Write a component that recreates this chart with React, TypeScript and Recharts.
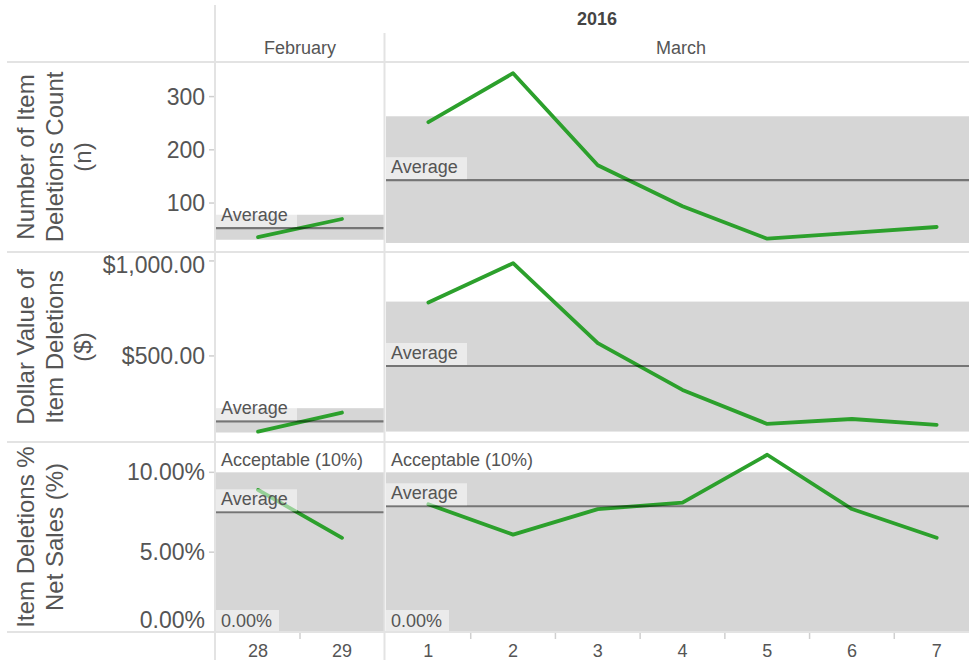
import React from 'react';
import { LineChart, Line, XAxis, YAxis, ReferenceArea, ReferenceLine } from 'recharts';

// ---------- data ----------
const febDays = ['28', '29'];
const marDays = ['1', '2', '3', '4', '5', '6', '7'];

const countFeb = [36, 70];
const countMar = [252, 344, 171, 94, 33, 44, 55];
const dollarFeb = [102, 202];
const dollarMar = [781, 988, 567, 321, 142, 168, 137];
const pctFeb = [8.9, 5.9];
const pctMar = [8.0, 6.1, 7.7, 8.1, 11.1, 7.7, 5.9];

// reference values: [February, March]
const countAvg = [53, 143];
const countBandLow = [31, 25];
const countBandHigh = [78, 263];
const dollarAvg = [156, 447];
const dollarBandLow = [97, 102];
const dollarBandHigh = [225, 786];
const pctAvg = [7.5, 7.875];
const pctBand = [0, 10];

const countTicks = [100, 200, 300];
const dollarTicks = [500, 1000];
const pctTicks = [0, 5, 10];

const countDomain = [8, 365];
const dollarDomain = [47, 1047];
const pctDomain = [0, 11.9];

const yearLabel = '2016';
const monthLabels = ['February', 'March'];
const countTitle = ['Number of Item', 'Deletions Count', '(n)'];
const dollarTitle = ['Dollar Value of', 'Item Deletions', '($)'];
const pctTitle = ['Item Deletions %', 'Net Sales (%)'];

const febRows = febDays.map((day, i) => ({ day, count: countFeb[i], dollar: dollarFeb[i], pct: pctFeb[i] }));
const marRows = marDays.map((day, i) => ({ day, count: countMar[i], dollar: dollarMar[i], pct: pctMar[i] }));

// ---------- styles ----------
const FONT = '"Liberation Sans", Arial, sans-serif';
const TEXT = '#555555';
const GREEN = '#2ca02c';
const BAND = '#d6d6d6';
const DIV = '#e3e3e3';

const fmtCount = (v: number) => String(v);
const fmtDollar = (v: number) =>
  '$' + v.toLocaleString('en-US', { minimumFractionDigits: 2, maximumFractionDigits: 2 });
const fmtPct = (v: number) => v.toFixed(2) + '%';

const ROW_H = 190;

const YTick = (props: any) => {
  const { x, y, payload, fmt } = props;
  const cy = Math.min(Math.max(y, 13), ROW_H - 12);
  return (
    <text x={x} y={cy} textAnchor="end" dominantBaseline="central" fontSize={23} fill={TEXT} fontFamily={FONT}>
      {fmt(payload.value)}
    </text>
  );
};

const XTick = (props: any) => {
  const { x, payload, index, bw } = props;
  return (
    <g>
      {index > 0 && (
        <line x1={x - bw / 2} x2={x - bw / 2} y1={ROW_H} y2={ROW_H + 7} stroke="#d0d0d0" strokeWidth={1.5} />
      )}
      <text x={x} y={ROW_H + 24.5} textAnchor="middle" fontSize={18} fill={TEXT} fontFamily={FONT}>
        {payload.value}
      </text>
    </g>
  );
};

const AxisTitle = (props: any) => {
  const vb = props.viewBox || {};
  const lines: string[] = props.lines || [];
  const x0 = typeof vb.x === 'number' ? vb.x : 0;
  const cy = (typeof vb.y === 'number' ? vb.y : 0) + (typeof vb.height === 'number' ? vb.height : ROW_H) / 2;
  return (
    <g>
      {lines.map((ln, i) => {
        const cx = x0 + 25.5 + i * 28.7;
        return (
          <text
            key={i}
            x={cx}
            y={cy}
            transform={`rotate(-90 ${cx} ${cy})`}
            textAnchor="middle"
            dominantBaseline="central"
            fontSize={24}
            fill={TEXT}
            fontFamily={FONT}
          >
            {ln}
          </text>
        );
      })}
    </g>
  );
};

const AvgLabel = (props: any) => {
  const vb = props.viewBox || {};
  const x = vb.x ?? 0;
  const y = vb.y ?? 0;
  return (
    <g>
      <rect x={x} y={y - 23} width={81} height={22} fill="#ffffff" fillOpacity={0.5} />
      <text x={x + 5} y={y - 7.5} fontSize={18} fill={TEXT} fontFamily={FONT}>
        Average
      </text>
    </g>
  );
};

const BandLabels = (props: any) => {
  const vb = props.viewBox || {};
  const x = (vb.x ?? 0) - (props.half ?? 0);
  const y = vb.y ?? 0;
  const h = vb.height ?? 0;
  const bottom = y + h;
  return (
    <g>
      <rect x={x} y={y - 24} width={156} height={22} fill="#ffffff" fillOpacity={0.5} />
      <text x={x + 5} y={y - 6.5} fontSize={18} fill={TEXT} fontFamily={FONT}>
        {`Acceptable (${pctBand[1]}%)`}
      </text>
      <rect x={x} y={bottom - 22} width={63} height={22} fill="#ffffff" fillOpacity={0.5} />
      <text x={x + 5} y={bottom - 5.5} fontSize={18} fill={TEXT} fontFamily={FONT}>
        {fmtPct(pctBand[0])}
      </text>
    </g>
  );
};

const BandShape = (props: any) => {
  const { x, y, width, height, half } = props;
  if (![x, y, width, height].every((v) => typeof v === 'number' && isFinite(v))) return null;
  return <rect x={x - half} y={y} width={width + 2 * half} height={height} fill={BAND} stroke="none" />;
};

type PanelProps = {
  data: any[];
  dataKey: string;
  domain: number[];
  avg: number;
  bandLow: number;
  bandHigh: number;
  left: number;
  top: number;
  width: number;
  showY: boolean;
  yTicks?: number[];
  fmt?: (v: number) => string;
  title?: string[];
  bottomAxis: boolean;
  bandLabels: boolean;
};

const Panel = (p: PanelProps) => {
  const yAxisW = p.showY ? 216 : 0;
  const plotW = p.width - yAxisW;
  const bw = plotW / p.data.length;
  const half = bw / 2;
  const pad = { left: half, right: half };
  const h = ROW_H + (p.bottomAxis ? 28 : 0);
  return (
    <div style={{ position: 'absolute', left: p.left, top: p.top }}>
      <LineChart width={p.width} height={h} data={p.data} margin={{ top: 0, right: 0, bottom: 0, left: 0 }}>
        {p.bottomAxis ? (
          <XAxis
            dataKey="day"
            height={28}
            padding={pad}
            axisLine={false}
            tickLine={false}
            interval={0}
            tick={(tp: any) => <XTick {...tp} bw={bw} />}
          />
        ) : (
          <XAxis dataKey="day" padding={pad} hide />
        )}
        {p.showY ? (
          <YAxis
            type="number"
            domain={p.domain}
            allowDataOverflow
            ticks={p.yTicks}
            interval={0}
            width={216}
            axisLine={false}
            tickSize={7}
            tickMargin={4}
            tickLine={{ stroke: '#cfcfcf', strokeWidth: 1.5 }}
            tick={(tp: any) => <YTick {...tp} fmt={p.fmt} />}
            label={<AxisTitle lines={p.title} />}
          />
        ) : (
          <YAxis type="number" domain={p.domain} allowDataOverflow hide />
        )}
        <ReferenceArea
          y1={p.bandLow}
          y2={p.bandHigh}
          fill={BAND}
          fillOpacity={1}
          stroke="none"
          ifOverflow="visible"
          shape={(sp: any) => <BandShape {...sp} half={half} />}
          label={p.bandLabels ? <BandLabels half={half} /> : undefined}
        />
        <Line
          type="linear"
          dataKey={p.dataKey}
          stroke={GREEN}
          strokeWidth={3.8}
          strokeLinecap="round"
          strokeLinejoin="round"
          dot={false}
          activeDot={false}
          isAnimationActive={false}
        />
        <ReferenceLine
          y={p.avg}
          stroke="#000000"
          strokeOpacity={0.45}
          strokeWidth={2.2}
          ifOverflow="visible"
          label={<AvgLabel />}
        />
      </LineChart>
    </div>
  );
};

const rows = [
  {
    key: 'count',
    top: 62,
    domain: countDomain,
    ticks: countTicks,
    fmt: fmtCount,
    title: countTitle,
    avg: countAvg,
    low: countBandLow,
    high: countBandHigh,
  },
  {
    key: 'dollar',
    top: 252,
    domain: dollarDomain,
    ticks: dollarTicks,
    fmt: fmtDollar,
    title: dollarTitle,
    avg: dollarAvg,
    low: dollarBandLow,
    high: dollarBandHigh,
  },
  {
    key: 'pct',
    top: 442,
    domain: pctDomain,
    ticks: pctTicks,
    fmt: fmtPct,
    title: pctTitle,
    avg: pctAvg,
    low: [pctBand[0], pctBand[0]],
    high: [pctBand[1], pctBand[1]],
  },
];

export default function App() {
  return (
    <div
      style={{
        position: 'absolute',
        left: 0,
        top: 0,
        width: 969,
        height: 660,
        overflow: 'hidden',
        background: '#ffffff',
        fontFamily: FONT,
      }}
    >
      {rows.map((r, ri) => (
        <React.Fragment key={r.key}>
          <Panel
            data={febRows}
            dataKey={r.key}
            domain={r.domain}
            avg={r.avg[0]}
            bandLow={r.low[0]}
            bandHigh={r.high[0]}
            left={0}
            top={r.top}
            width={384}
            showY
            yTicks={r.ticks}
            fmt={r.fmt}
            title={r.title}
            bottomAxis={ri === 2}
            bandLabels={ri === 2}
          />
          <Panel
            data={marRows}
            dataKey={r.key}
            domain={r.domain}
            avg={r.avg[1]}
            bandLow={r.low[1]}
            bandHigh={r.high[1]}
            left={386}
            top={r.top}
            width={593}
            showY={false}
            bottomAxis={ri === 2}
            bandLabels={ri === 2}
          />
        </React.Fragment>
      ))}
      <svg width={969} height={660} style={{ position: 'absolute', left: 0, top: 0, pointerEvents: 'none' }}>
        <line x1={215} x2={215} y1={5} y2={660} stroke={DIV} strokeWidth={2} />
        <line x1={384.5} x2={384.5} y1={33} y2={660} stroke={DIV} strokeWidth={2} />
        {[62, 252, 442, 632].map((y) => (
          <line key={y} x1={7} x2={969} y1={y} y2={y} stroke={DIV} strokeWidth={2} />
        ))}
        <text x={597} y={25} textAnchor="middle" fontSize={18} fontWeight="bold" fill="#444" fontFamily={FONT}>
          {yearLabel}
        </text>
        <text x={300} y={54} textAnchor="middle" fontSize={18} fill={TEXT} fontFamily={FONT}>
          {monthLabels[0]}
        </text>
        <text x={681} y={54} textAnchor="middle" fontSize={18} fill={TEXT} fontFamily={FONT}>
          {monthLabels[1]}
        </text>
      </svg>
    </div>
  );
}
